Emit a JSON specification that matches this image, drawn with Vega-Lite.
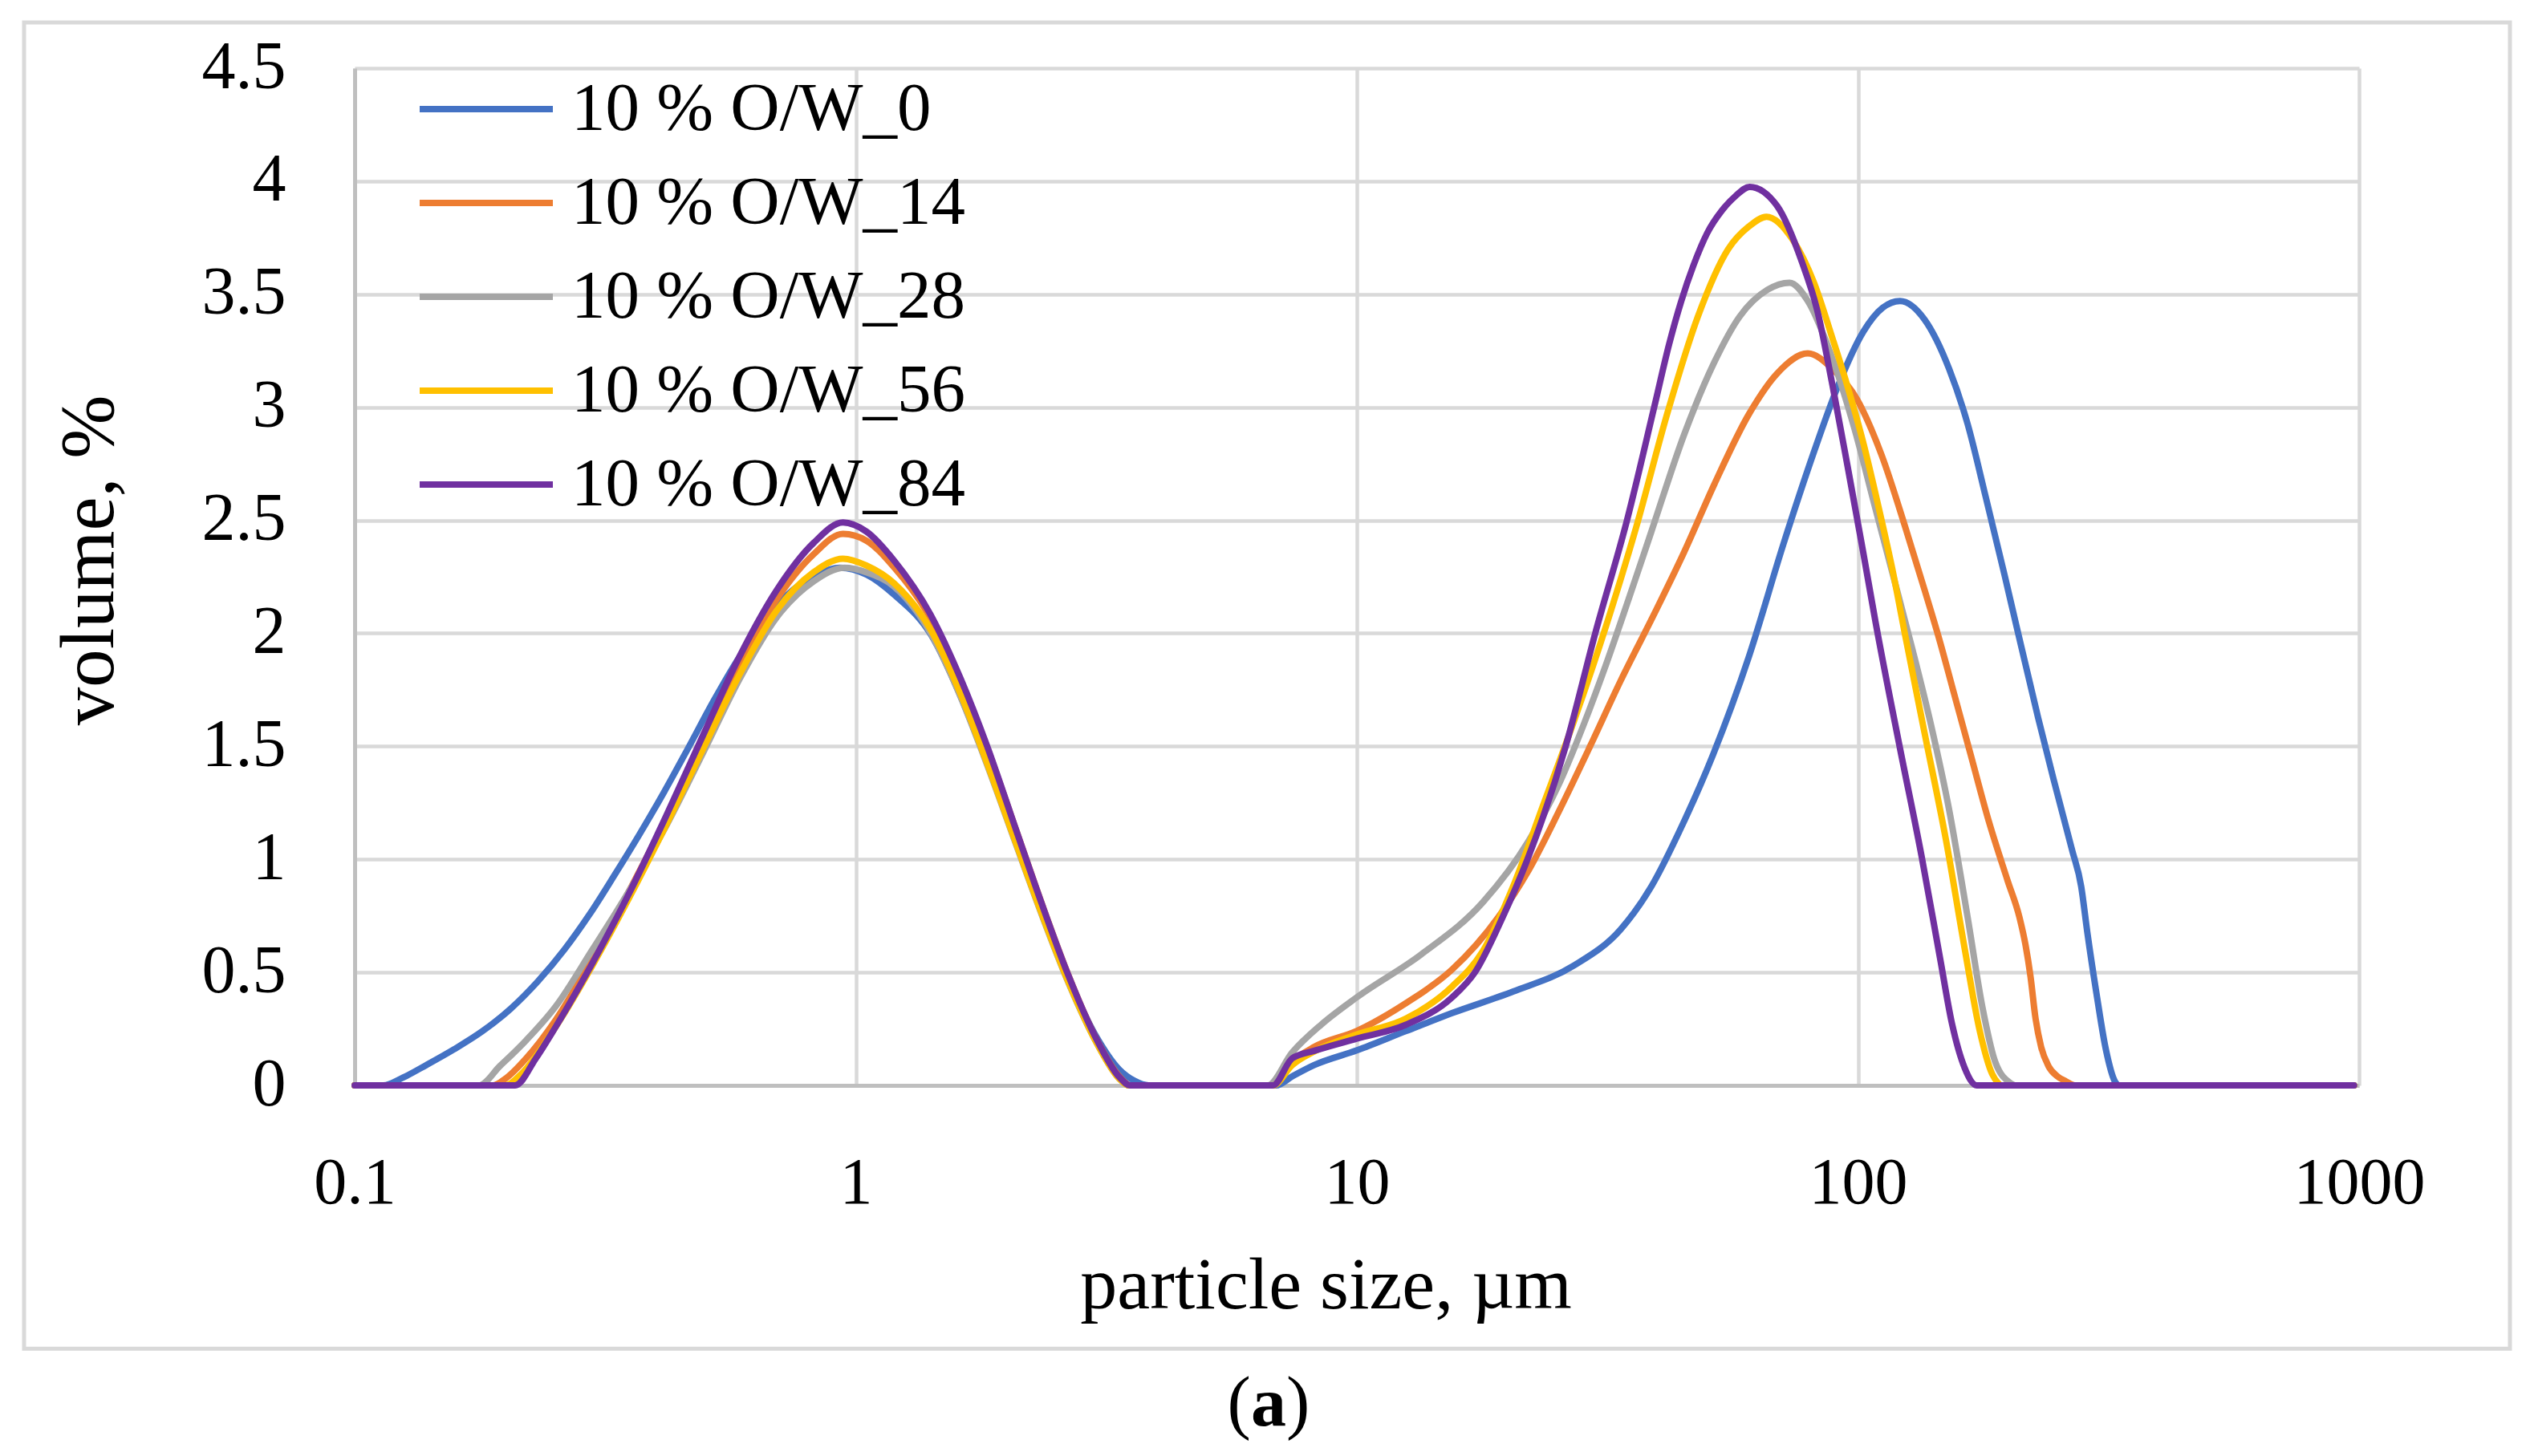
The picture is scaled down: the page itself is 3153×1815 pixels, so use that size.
{
  "$schema": "https://vega.github.io/schema/vega-lite/v6.json",
  "width": 2498,
  "height": 1268,
  "autosize": {"type": "none"},
  "padding": {"left": 442, "top": 85, "right": 213, "bottom": 462},
  "background": "white",
  "config": {
    "view": {"stroke": null},
    "font": "Liberation Serif",
    "axis": {
      "grid": true,
      "gridColor": "#d9d9d9",
      "gridWidth": 4.5,
      "domainColor": "#bfbfbf",
      "domainWidth": 5,
      "ticks": false,
      "tickSize": 0,
      "labelColor": "#000000",
      "labelFont": "Liberation Serif",
      "titleColor": "#000000",
      "titleFont": "Liberation Serif",
      "titleFontWeight": "normal",
      "labelOverlap": false,
      "labelFlush": false
    }
  },
  "datasets": {
    "psd": [
      {"sample": "10 % O/W_0", "size": 0.1, "volume": 0},
      {"sample": "10 % O/W_0", "size": 0.114, "volume": 0},
      {"sample": "10 % O/W_0", "size": 0.125, "volume": 0.035},
      {"sample": "10 % O/W_0", "size": 0.139, "volume": 0.09},
      {"sample": "10 % O/W_0", "size": 0.158, "volume": 0.16},
      {"sample": "10 % O/W_0", "size": 0.18, "volume": 0.24},
      {"sample": "10 % O/W_0", "size": 0.205, "volume": 0.34},
      {"sample": "10 % O/W_0", "size": 0.232, "volume": 0.46},
      {"sample": "10 % O/W_0", "size": 0.262, "volume": 0.6},
      {"sample": "10 % O/W_0", "size": 0.295, "volume": 0.76},
      {"sample": "10 % O/W_0", "size": 0.33, "volume": 0.93},
      {"sample": "10 % O/W_0", "size": 0.37, "volume": 1.11},
      {"sample": "10 % O/W_0", "size": 0.415, "volume": 1.3},
      {"sample": "10 % O/W_0", "size": 0.465, "volume": 1.5},
      {"sample": "10 % O/W_0", "size": 0.52, "volume": 1.7},
      {"sample": "10 % O/W_0", "size": 0.58, "volume": 1.88},
      {"sample": "10 % O/W_0", "size": 0.65, "volume": 2.04},
      {"sample": "10 % O/W_0", "size": 0.73, "volume": 2.17},
      {"sample": "10 % O/W_0", "size": 0.82, "volume": 2.25},
      {"sample": "10 % O/W_0", "size": 0.93, "volume": 2.29},
      {"sample": "10 % O/W_0", "size": 1.05, "volume": 2.26},
      {"sample": "10 % O/W_0", "size": 1.194, "volume": 2.17},
      {"sample": "10 % O/W_0", "size": 1.416, "volume": 1.99},
      {"sample": "10 % O/W_0", "size": 1.62, "volume": 1.72},
      {"sample": "10 % O/W_0", "size": 1.825, "volume": 1.43},
      {"sample": "10 % O/W_0", "size": 2.089, "volume": 1.08},
      {"sample": "10 % O/W_0", "size": 2.35, "volume": 0.77},
      {"sample": "10 % O/W_0", "size": 2.648, "volume": 0.48},
      {"sample": "10 % O/W_0", "size": 3.03, "volume": 0.21},
      {"sample": "10 % O/W_0", "size": 3.356, "volume": 0.07},
      {"sample": "10 % O/W_0", "size": 3.6, "volume": 0.02},
      {"sample": "10 % O/W_0", "size": 3.84, "volume": 0},
      {"sample": "10 % O/W_0", "size": 6.9, "volume": 0},
      {"sample": "10 % O/W_0", "size": 7.43, "volume": 0.04},
      {"sample": "10 % O/W_0", "size": 8.22, "volume": 0.09},
      {"sample": "10 % O/W_0", "size": 10, "volume": 0.155},
      {"sample": "10 % O/W_0", "size": 12.52, "volume": 0.24},
      {"sample": "10 % O/W_0", "size": 15.5, "volume": 0.32},
      {"sample": "10 % O/W_0", "size": 20.5, "volume": 0.415},
      {"sample": "10 % O/W_0", "size": 27.1, "volume": 0.53},
      {"sample": "10 % O/W_0", "size": 33.6, "volume": 0.69},
      {"sample": "10 % O/W_0", "size": 38.7, "volume": 0.88},
      {"sample": "10 % O/W_0", "size": 44.6, "volume": 1.151},
      {"sample": "10 % O/W_0", "size": 51.4, "volume": 1.464},
      {"sample": "10 % O/W_0", "size": 60.6, "volume": 1.898},
      {"sample": "10 % O/W_0", "size": 71, "volume": 2.395},
      {"sample": "10 % O/W_0", "size": 81.7, "volume": 2.803},
      {"sample": "10 % O/W_0", "size": 91.5, "volume": 3.102},
      {"sample": "10 % O/W_0", "size": 102.4, "volume": 3.333},
      {"sample": "10 % O/W_0", "size": 112, "volume": 3.44},
      {"sample": "10 % O/W_0", "size": 121.3, "volume": 3.47},
      {"sample": "10 % O/W_0", "size": 135.8, "volume": 3.388},
      {"sample": "10 % O/W_0", "size": 152, "volume": 3.17},
      {"sample": "10 % O/W_0", "size": 165.5, "volume": 2.926},
      {"sample": "10 % O/W_0", "size": 180, "volume": 2.6},
      {"sample": "10 % O/W_0", "size": 196, "volume": 2.26},
      {"sample": "10 % O/W_0", "size": 207, "volume": 2.035},
      {"sample": "10 % O/W_0", "size": 228.8, "volume": 1.627},
      {"sample": "10 % O/W_0", "size": 245.6, "volume": 1.355},
      {"sample": "10 % O/W_0", "size": 267.3, "volume": 1.043},
      {"sample": "10 % O/W_0", "size": 278.9, "volume": 0.88},
      {"sample": "10 % O/W_0", "size": 286.9, "volume": 0.676},
      {"sample": "10 % O/W_0", "size": 299.3, "volume": 0.404},
      {"sample": "10 % O/W_0", "size": 312.3, "volume": 0.16},
      {"sample": "10 % O/W_0", "size": 325.7, "volume": 0.017},
      {"sample": "10 % O/W_0", "size": 332, "volume": 0},
      {"sample": "10 % O/W_0", "size": 977, "volume": 0},

      {"sample": "10 % O/W_14", "size": 0.1, "volume": 0},
      {"sample": "10 % O/W_14", "size": 0.189, "volume": 0},
      {"sample": "10 % O/W_14", "size": 0.2, "volume": 0.03},
      {"sample": "10 % O/W_14", "size": 0.22, "volume": 0.12},
      {"sample": "10 % O/W_14", "size": 0.252, "volume": 0.29},
      {"sample": "10 % O/W_14", "size": 0.298, "volume": 0.56},
      {"sample": "10 % O/W_14", "size": 0.353, "volume": 0.86},
      {"sample": "10 % O/W_14", "size": 0.418, "volume": 1.18},
      {"sample": "10 % O/W_14", "size": 0.496, "volume": 1.54},
      {"sample": "10 % O/W_14", "size": 0.587, "volume": 1.87},
      {"sample": "10 % O/W_14", "size": 0.695, "volume": 2.15},
      {"sample": "10 % O/W_14", "size": 0.824, "volume": 2.35},
      {"sample": "10 % O/W_14", "size": 0.943, "volume": 2.44},
      {"sample": "10 % O/W_14", "size": 1.05, "volume": 2.41},
      {"sample": "10 % O/W_14", "size": 1.194, "volume": 2.29},
      {"sample": "10 % O/W_14", "size": 1.416, "volume": 2.06},
      {"sample": "10 % O/W_14", "size": 1.62, "volume": 1.79},
      {"sample": "10 % O/W_14", "size": 1.825, "volume": 1.5},
      {"sample": "10 % O/W_14", "size": 2.089, "volume": 1.13},
      {"sample": "10 % O/W_14", "size": 2.35, "volume": 0.805},
      {"sample": "10 % O/W_14", "size": 2.648, "volume": 0.495},
      {"sample": "10 % O/W_14", "size": 3.03, "volume": 0.2},
      {"sample": "10 % O/W_14", "size": 3.356, "volume": 0.04},
      {"sample": "10 % O/W_14", "size": 3.53, "volume": 0},
      {"sample": "10 % O/W_14", "size": 6.8, "volume": 0},
      {"sample": "10 % O/W_14", "size": 7.43, "volume": 0.105},
      {"sample": "10 % O/W_14", "size": 8.22, "volume": 0.17},
      {"sample": "10 % O/W_14", "size": 10, "volume": 0.241},
      {"sample": "10 % O/W_14", "size": 12.52, "volume": 0.363},
      {"sample": "10 % O/W_14", "size": 15.5, "volume": 0.513},
      {"sample": "10 % O/W_14", "size": 19.15, "volume": 0.744},
      {"sample": "10 % O/W_14", "size": 22, "volume": 0.95},
      {"sample": "10 % O/W_14", "size": 25.4, "volume": 1.22},
      {"sample": "10 % O/W_14", "size": 29.2, "volume": 1.5},
      {"sample": "10 % O/W_14", "size": 33.6, "volume": 1.79},
      {"sample": "10 % O/W_14", "size": 39.3, "volume": 2.09},
      {"sample": "10 % O/W_14", "size": 45, "volume": 2.36},
      {"sample": "10 % O/W_14", "size": 51.7, "volume": 2.66},
      {"sample": "10 % O/W_14", "size": 60.6, "volume": 2.97},
      {"sample": "10 % O/W_14", "size": 69, "volume": 3.15},
      {"sample": "10 % O/W_14", "size": 79.4, "volume": 3.238},
      {"sample": "10 % O/W_14", "size": 88.9, "volume": 3.17},
      {"sample": "10 % O/W_14", "size": 99.6, "volume": 3.034},
      {"sample": "10 % O/W_14", "size": 111.4, "volume": 2.79},
      {"sample": "10 % O/W_14", "size": 124.5, "volume": 2.464},
      {"sample": "10 % O/W_14", "size": 135.8, "volume": 2.192},
      {"sample": "10 % O/W_14", "size": 145.7, "volume": 1.964},
      {"sample": "10 % O/W_14", "size": 154.2, "volume": 1.763},
      {"sample": "10 % O/W_14", "size": 167.8, "volume": 1.464},
      {"sample": "10 % O/W_14", "size": 182.6, "volume": 1.165},
      {"sample": "10 % O/W_14", "size": 198.8, "volume": 0.907},
      {"sample": "10 % O/W_14", "size": 210, "volume": 0.744},
      {"sample": "10 % O/W_14", "size": 216, "volume": 0.62},
      {"sample": "10 % O/W_14", "size": 221, "volume": 0.48},
      {"sample": "10 % O/W_14", "size": 226, "volume": 0.3},
      {"sample": "10 % O/W_14", "size": 232, "volume": 0.17},
      {"sample": "10 % O/W_14", "size": 240, "volume": 0.085},
      {"sample": "10 % O/W_14", "size": 250, "volume": 0.04},
      {"sample": "10 % O/W_14", "size": 260, "volume": 0.018},
      {"sample": "10 % O/W_14", "size": 271, "volume": 0},
      {"sample": "10 % O/W_14", "size": 977, "volume": 0},

      {"sample": "10 % O/W_28", "size": 0.1, "volume": 0},
      {"sample": "10 % O/W_28", "size": 0.177, "volume": 0},
      {"sample": "10 % O/W_28", "size": 0.195, "volume": 0.086},
      {"sample": "10 % O/W_28", "size": 0.22, "volume": 0.2},
      {"sample": "10 % O/W_28", "size": 0.252, "volume": 0.35},
      {"sample": "10 % O/W_28", "size": 0.298, "volume": 0.6},
      {"sample": "10 % O/W_28", "size": 0.353, "volume": 0.86},
      {"sample": "10 % O/W_28", "size": 0.418, "volume": 1.146},
      {"sample": "10 % O/W_28", "size": 0.496, "volume": 1.472},
      {"sample": "10 % O/W_28", "size": 0.587, "volume": 1.8},
      {"sample": "10 % O/W_28", "size": 0.695, "volume": 2.07},
      {"sample": "10 % O/W_28", "size": 0.824, "volume": 2.23},
      {"sample": "10 % O/W_28", "size": 0.95, "volume": 2.29},
      {"sample": "10 % O/W_28", "size": 1.05, "volume": 2.27},
      {"sample": "10 % O/W_28", "size": 1.194, "volume": 2.206},
      {"sample": "10 % O/W_28", "size": 1.416, "volume": 1.994},
      {"sample": "10 % O/W_28", "size": 1.62, "volume": 1.717},
      {"sample": "10 % O/W_28", "size": 1.825, "volume": 1.423},
      {"sample": "10 % O/W_28", "size": 2.089, "volume": 1.065},
      {"sample": "10 % O/W_28", "size": 2.35, "volume": 0.755},
      {"sample": "10 % O/W_28", "size": 2.648, "volume": 0.462},
      {"sample": "10 % O/W_28", "size": 3.03, "volume": 0.185},
      {"sample": "10 % O/W_28", "size": 3.356, "volume": 0.03},
      {"sample": "10 % O/W_28", "size": 3.5, "volume": 0},
      {"sample": "10 % O/W_28", "size": 6.64, "volume": 0},
      {"sample": "10 % O/W_28", "size": 7.43, "volume": 0.146},
      {"sample": "10 % O/W_28", "size": 8.5, "volume": 0.27},
      {"sample": "10 % O/W_28", "size": 10, "volume": 0.39},
      {"sample": "10 % O/W_28", "size": 13.45, "volume": 0.58},
      {"sample": "10 % O/W_28", "size": 17.84, "volume": 0.81},
      {"sample": "10 % O/W_28", "size": 22, "volume": 1.08},
      {"sample": "10 % O/W_28", "size": 25.4, "volume": 1.34},
      {"sample": "10 % O/W_28", "size": 28.4, "volume": 1.6},
      {"sample": "10 % O/W_28", "size": 31.4, "volume": 1.86},
      {"sample": "10 % O/W_28", "size": 34.6, "volume": 2.13},
      {"sample": "10 % O/W_28", "size": 38.7, "volume": 2.45},
      {"sample": "10 % O/W_28", "size": 45, "volume": 2.88},
      {"sample": "10 % O/W_28", "size": 51.7, "volume": 3.2},
      {"sample": "10 % O/W_28", "size": 58, "volume": 3.4},
      {"sample": "10 % O/W_28", "size": 66, "volume": 3.52},
      {"sample": "10 % O/W_28", "size": 73, "volume": 3.551},
      {"sample": "10 % O/W_28", "size": 79.4, "volume": 3.47},
      {"sample": "10 % O/W_28", "size": 87.7, "volume": 3.252},
      {"sample": "10 % O/W_28", "size": 98.2, "volume": 2.912},
      {"sample": "10 % O/W_28", "size": 108.4, "volume": 2.55},
      {"sample": "10 % O/W_28", "size": 117.7, "volume": 2.25},
      {"sample": "10 % O/W_28", "size": 128.4, "volume": 1.93},
      {"sample": "10 % O/W_28", "size": 139.7, "volume": 1.6},
      {"sample": "10 % O/W_28", "size": 152, "volume": 1.22},
      {"sample": "10 % O/W_28", "size": 165.5, "volume": 0.744},
      {"sample": "10 % O/W_28", "size": 177.5, "volume": 0.336},
      {"sample": "10 % O/W_28", "size": 187.8, "volume": 0.105},
      {"sample": "10 % O/W_28", "size": 201.6, "volume": 0.01},
      {"sample": "10 % O/W_28", "size": 206, "volume": 0},
      {"sample": "10 % O/W_28", "size": 977, "volume": 0},

      {"sample": "10 % O/W_56", "size": 0.1, "volume": 0},
      {"sample": "10 % O/W_56", "size": 0.2, "volume": 0},
      {"sample": "10 % O/W_56", "size": 0.215, "volume": 0.05},
      {"sample": "10 % O/W_56", "size": 0.252, "volume": 0.26},
      {"sample": "10 % O/W_56", "size": 0.298, "volume": 0.53},
      {"sample": "10 % O/W_56", "size": 0.353, "volume": 0.83},
      {"sample": "10 % O/W_56", "size": 0.418, "volume": 1.15},
      {"sample": "10 % O/W_56", "size": 0.496, "volume": 1.49},
      {"sample": "10 % O/W_56", "size": 0.587, "volume": 1.82},
      {"sample": "10 % O/W_56", "size": 0.695, "volume": 2.1},
      {"sample": "10 % O/W_56", "size": 0.824, "volume": 2.27},
      {"sample": "10 % O/W_56", "size": 0.943, "volume": 2.33},
      {"sample": "10 % O/W_56", "size": 1.05, "volume": 2.3},
      {"sample": "10 % O/W_56", "size": 1.194, "volume": 2.22},
      {"sample": "10 % O/W_56", "size": 1.416, "volume": 2.01},
      {"sample": "10 % O/W_56", "size": 1.62, "volume": 1.73},
      {"sample": "10 % O/W_56", "size": 1.825, "volume": 1.43},
      {"sample": "10 % O/W_56", "size": 2.089, "volume": 1.07},
      {"sample": "10 % O/W_56", "size": 2.35, "volume": 0.76},
      {"sample": "10 % O/W_56", "size": 2.648, "volume": 0.465},
      {"sample": "10 % O/W_56", "size": 3.03, "volume": 0.185},
      {"sample": "10 % O/W_56", "size": 3.356, "volume": 0.03},
      {"sample": "10 % O/W_56", "size": 3.5, "volume": 0},
      {"sample": "10 % O/W_56", "size": 6.8, "volume": 0},
      {"sample": "10 % O/W_56", "size": 7.43, "volume": 0.09},
      {"sample": "10 % O/W_56", "size": 8.22, "volume": 0.15},
      {"sample": "10 % O/W_56", "size": 10, "volume": 0.225},
      {"sample": "10 % O/W_56", "size": 12.52, "volume": 0.295},
      {"sample": "10 % O/W_56", "size": 15.5, "volume": 0.438},
      {"sample": "10 % O/W_56", "size": 17.84, "volume": 0.594},
      {"sample": "10 % O/W_56", "size": 20.5, "volume": 0.88},
      {"sample": "10 % O/W_56", "size": 23.6, "volume": 1.247},
      {"sample": "10 % O/W_56", "size": 27.2, "volume": 1.62},
      {"sample": "10 % O/W_56", "size": 31.4, "volume": 2.03},
      {"sample": "10 % O/W_56", "size": 36.1, "volume": 2.47},
      {"sample": "10 % O/W_56", "size": 41.6, "volume": 2.97},
      {"sample": "10 % O/W_56", "size": 47.9, "volume": 3.4},
      {"sample": "10 % O/W_56", "size": 55.1, "volume": 3.7},
      {"sample": "10 % O/W_56", "size": 60.6, "volume": 3.8},
      {"sample": "10 % O/W_56", "size": 65.7, "volume": 3.843},
      {"sample": "10 % O/W_56", "size": 74.1, "volume": 3.741},
      {"sample": "10 % O/W_56", "size": 81.7, "volume": 3.551},
      {"sample": "10 % O/W_56", "size": 88.9, "volume": 3.306},
      {"sample": "10 % O/W_56", "size": 95.4, "volume": 3.089},
      {"sample": "10 % O/W_56", "size": 102.4, "volume": 2.845},
      {"sample": "10 % O/W_56", "size": 109.9, "volume": 2.559},
      {"sample": "10 % O/W_56", "size": 117.7, "volume": 2.26},
      {"sample": "10 % O/W_56", "size": 124.5, "volume": 1.98},
      {"sample": "10 % O/W_56", "size": 135.8, "volume": 1.559},
      {"sample": "10 % O/W_56", "size": 149.9, "volume": 1.083},
      {"sample": "10 % O/W_56", "size": 163.2, "volume": 0.608},
      {"sample": "10 % O/W_56", "size": 175, "volume": 0.241},
      {"sample": "10 % O/W_56", "size": 185.2, "volume": 0.051},
      {"sample": "10 % O/W_56", "size": 190.5, "volume": 0.01},
      {"sample": "10 % O/W_56", "size": 193, "volume": 0},
      {"sample": "10 % O/W_56", "size": 977, "volume": 0},

      {"sample": "10 % O/W_84", "size": 0.1, "volume": 0},
      {"sample": "10 % O/W_84", "size": 0.209, "volume": 0},
      {"sample": "10 % O/W_84", "size": 0.23, "volume": 0.12},
      {"sample": "10 % O/W_84", "size": 0.252, "volume": 0.26},
      {"sample": "10 % O/W_84", "size": 0.298, "volume": 0.54},
      {"sample": "10 % O/W_84", "size": 0.353, "volume": 0.85},
      {"sample": "10 % O/W_84", "size": 0.418, "volume": 1.19},
      {"sample": "10 % O/W_84", "size": 0.496, "volume": 1.55},
      {"sample": "10 % O/W_84", "size": 0.587, "volume": 1.9},
      {"sample": "10 % O/W_84", "size": 0.695, "volume": 2.19},
      {"sample": "10 % O/W_84", "size": 0.824, "volume": 2.4},
      {"sample": "10 % O/W_84", "size": 0.943, "volume": 2.49},
      {"sample": "10 % O/W_84", "size": 1.05, "volume": 2.45},
      {"sample": "10 % O/W_84", "size": 1.194, "volume": 2.32},
      {"sample": "10 % O/W_84", "size": 1.416, "volume": 2.075},
      {"sample": "10 % O/W_84", "size": 1.62, "volume": 1.798},
      {"sample": "10 % O/W_84", "size": 1.825, "volume": 1.506},
      {"sample": "10 % O/W_84", "size": 2.089, "volume": 1.13},
      {"sample": "10 % O/W_84", "size": 2.35, "volume": 0.804},
      {"sample": "10 % O/W_84", "size": 2.648, "volume": 0.494},
      {"sample": "10 % O/W_84", "size": 3.03, "volume": 0.2},
      {"sample": "10 % O/W_84", "size": 3.356, "volume": 0.037},
      {"sample": "10 % O/W_84", "size": 3.53, "volume": 0},
      {"sample": "10 % O/W_84", "size": 6.8, "volume": 0},
      {"sample": "10 % O/W_84", "size": 7.43, "volume": 0.12},
      {"sample": "10 % O/W_84", "size": 8.22, "volume": 0.153},
      {"sample": "10 % O/W_84", "size": 10, "volume": 0.207},
      {"sample": "10 % O/W_84", "size": 12.52, "volume": 0.268},
      {"sample": "10 % O/W_84", "size": 15.5, "volume": 0.39},
      {"sample": "10 % O/W_84", "size": 17.2, "volume": 0.5},
      {"sample": "10 % O/W_84", "size": 19.5, "volume": 0.74},
      {"sample": "10 % O/W_84", "size": 21.9, "volume": 1.0},
      {"sample": "10 % O/W_84", "size": 26.1, "volume": 1.5},
      {"sample": "10 % O/W_84", "size": 29.9, "volume": 2.0},
      {"sample": "10 % O/W_84", "size": 34.6, "volume": 2.5},
      {"sample": "10 % O/W_84", "size": 39.2, "volume": 3.0},
      {"sample": "10 % O/W_84", "size": 42, "volume": 3.28},
      {"sample": "10 % O/W_84", "size": 44.4, "volume": 3.47},
      {"sample": "10 % O/W_84", "size": 47, "volume": 3.63},
      {"sample": "10 % O/W_84", "size": 50, "volume": 3.77},
      {"sample": "10 % O/W_84", "size": 53.5, "volume": 3.87},
      {"sample": "10 % O/W_84", "size": 57, "volume": 3.935},
      {"sample": "10 % O/W_84", "size": 60.8, "volume": 3.975},
      {"sample": "10 % O/W_84", "size": 69, "volume": 3.89},
      {"sample": "10 % O/W_84", "size": 77.2, "volume": 3.646},
      {"sample": "10 % O/W_84", "size": 82.9, "volume": 3.43},
      {"sample": "10 % O/W_84", "size": 88.9, "volume": 3.1},
      {"sample": "10 % O/W_84", "size": 95.4, "volume": 2.735},
      {"sample": "10 % O/W_84", "size": 102.4, "volume": 2.36},
      {"sample": "10 % O/W_84", "size": 108.4, "volume": 2.05},
      {"sample": "10 % O/W_84", "size": 121.3, "volume": 1.491},
      {"sample": "10 % O/W_84", "size": 133.9, "volume": 1.016},
      {"sample": "10 % O/W_84", "size": 145.7, "volume": 0.567},
      {"sample": "10 % O/W_84", "size": 154.2, "volume": 0.268},
      {"sample": "10 % O/W_84", "size": 163.2, "volume": 0.078},
      {"sample": "10 % O/W_84", "size": 172.6, "volume": 0},
      {"sample": "10 % O/W_84", "size": 977, "volume": 0}
    ]
  },
  "layer": [
    {
      "data": {"values": [{}]},
      "mark": {"type": "rect", "filled": false, "stroke": "#d9d9d9", "strokeWidth": 5},
      "encoding": {
        "x": {"datum": 0.02189, "type": "quantitative"},
        "x2": {"datum": 2000},
        "y": {"datum": 4.702, "type": "quantitative"},
        "y2": {"datum": -1.1648}
      }
    },
    {
      "data": {"name": "psd"},
      "mark": {"type": "line", "interpolate": "monotone", "strokeWidth": 8, "strokeCap": "round", "strokeJoin": "round"},
      "encoding": {
        "x": {
          "field": "size",
          "type": "quantitative",
          "scale": {"type": "log", "domain": [0.1, 1000]},
          "axis": {
            "values": [0.1, 1, 10, 100, 1000],
            "format": "~g",
            "title": "particle size, µm",
            "labelFontSize": 82,
            "labelPadding": 146,
            "labelBaseline": "alphabetic",
            "titleFontSize": 92,
            "titleX": 1210,
            "titleY": 277,
            "titleAlign": "center",
            "titleBaseline": "alphabetic"
          }
        },
        "y": {
          "field": "volume",
          "type": "quantitative",
          "scale": {"domain": [0, 4.5]},
          "axis": {
            "values": [0, 0.5, 1, 1.5, 2, 2.5, 3, 3.5, 4, 4.5],
            "format": "~g",
            "title": "volume, %",
            "labelFontSize": 84,
            "labelPadding": 86,
            "labelBaseline": "alphabetic",
            "labelOffset": 24,
            "titleFontSize": 95,
            "titleAngle": 270,
            "titleX": -302,
            "titleY": 613,
            "titleAlign": "center",
            "titleBaseline": "alphabetic"
          }
        },
        "color": {
          "field": "sample",
          "type": "nominal",
          "scale": {
            "domain": ["10 % O/W_0", "10 % O/W_14", "10 % O/W_28", "10 % O/W_56", "10 % O/W_84"],
            "range": ["#4472C4", "#ED7D31", "#A5A5A5", "#FFC000", "#7030A0"]
          },
          "legend": {
            "orient": "none",
            "legendX": 121.5,
            "legendY": 8.5,
            "title": null,
            "padding": 0,
            "symbolType": "M-3,0H3",
            "symbolSize": 3062,
            "symbolStrokeWidth": 8,
            "symbolOffset": 0,
            "labelOffset": 63.5,
            "labelFontSize": 85,
            "labelFont": "Liberation Serif",
            "labelColor": "#000000",
            "labelLimit": 0,
            "rowPadding": 31
          }
        }
      }
    },
    {
      "data": {"values": [{}]},
      "mark": {"type": "text", "text": "(", "fontSize": 88, "font": "Liberation Serif", "baseline": "alphabetic", "align": "right", "color": "#000000"},
      "encoding": {
        "x": {"datum": 6.145, "type": "quantitative"},
        "y": {"datum": -1.5057, "type": "quantitative"}
      }
    },
    {
      "data": {"values": [{}]},
      "mark": {"type": "text", "text": "a", "fontSize": 88, "fontWeight": "bold", "font": "Liberation Serif", "baseline": "alphabetic", "align": "center", "color": "#000000"},
      "encoding": {
        "x": {"datum": 6.667, "type": "quantitative"},
        "y": {"datum": -1.5057, "type": "quantitative"}
      }
    },
    {
      "data": {"values": [{}]},
      "mark": {"type": "text", "text": ")", "fontSize": 88, "font": "Liberation Serif", "baseline": "alphabetic", "align": "left", "color": "#000000"},
      "encoding": {
        "x": {"datum": 7.23, "type": "quantitative"},
        "y": {"datum": -1.5057, "type": "quantitative"}
      }
    }
  ]
}
